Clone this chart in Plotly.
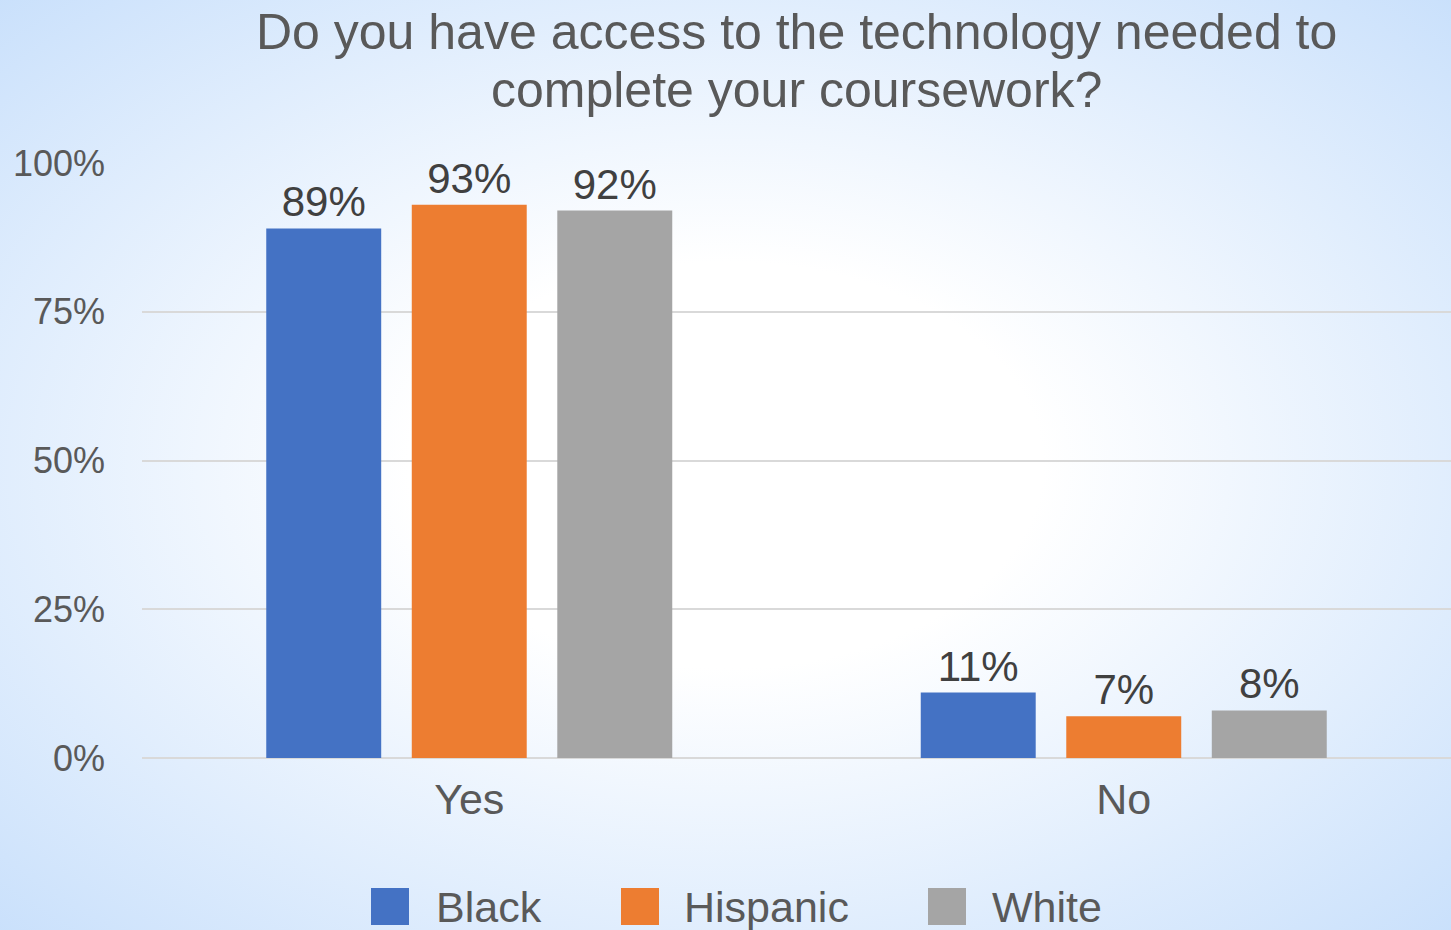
import base64
import plotly.graph_objects as go

categories = ["Yes", "No"]
groups = ["Black", "Hispanic", "White"]
black = [0.89, 0.11]
hispanic = [0.93, 0.07]
white = [0.92, 0.08]
colors = ["#4472C4", "#ED7D31", "#A5A5A5"]
series = [black, hispanic, white]
title_lines = ["Do you have access to the technology needed to", "complete your coursework?"]
tick_vals = [0, 0.25, 0.5, 0.75, 1.0]
tick_text = ["0%", "25%", "50%", "75%", "100%"]

W, H = 1451, 930
ML, MR, MT, MB = 142, 0, 163, 172
PW, PH = W - ML - MR, H - MT - MB
FONT = "Liberation Sans, Arial, sans-serif"

def px(x):
    return (x - ML) / PW

def py(y):
    return (H - MB - y) / PH

svg = f'''<svg xmlns="http://www.w3.org/2000/svg" width="{W}" height="{H}" viewBox="0 0 {W} {H}" preserveAspectRatio="none">
<defs><radialGradient id="g" cx="0.5" cy="0.5" r="0.78">
<stop offset="0" stop-color="#ffffff"/>
<stop offset="0.28" stop-color="#ffffff"/>
<stop offset="1" stop-color="#c2dcfb"/>
</radialGradient></defs>
<rect x="0" y="0" width="{W}" height="{H}" fill="url(#g)"/></svg>'''
bg_src = "data:image/svg+xml;base64," + base64.b64encode(svg.encode()).decode()

fig = go.Figure()
for name, vals, col in zip(groups, series, colors):
    fig.add_trace(go.Bar(
        x=categories, y=vals, name=name, marker=dict(color=col, line=dict(width=0)),
        text=[f"{round(v*100)}%" for v in vals], textposition="outside",
        textfont=dict(size=42, color="#404040", family=FONT),
        cliponaxis=False, showlegend=False,
    ))

shapes = []
annotations = []
for line, cy in zip(title_lines, [32, 90]):
    annotations.append(dict(text=line, xref="paper", yref="paper", x=0.5, y=py(cy),
                            xanchor="center", yanchor="middle", showarrow=False,
                            font=dict(size=50, color="#595959", family=FONT)))
legend_items = [(371, 434), (621, 682), (928, 990)]
for (sx, tx), name, col in zip(legend_items, groups, colors):
    shapes.append(dict(type="rect", xref="paper", yref="paper",
                       x0=px(sx), x1=px(sx + 38), y0=py(888), y1=py(925),
                       fillcolor=col, line=dict(width=0), layer="above"))
    annotations.append(dict(text=name, xref="paper", yref="paper", x=px(tx), y=py(907),
                            xanchor="left", yanchor="middle", showarrow=False,
                            font=dict(size=43, color="#595959", family=FONT)))

fig.update_layout(
    width=W, height=H,
    margin=dict(l=ML, r=MR, t=MT, b=MB, pad=0),
    paper_bgcolor="white", plot_bgcolor="rgba(0,0,0,0)",
    barmode="group", bargap=0.333, bargroupgap=0.21,
    font=dict(family=FONT, color="#595959"),
    xaxis=dict(showgrid=False, showline=False, ticks="", tickfont=dict(size=43, color="#595959"),
               ticklabelstandoff=12),
    yaxis=dict(range=[0, 1], tickvals=tick_vals, ticktext=tick_text, showgrid=True,
               gridcolor="#d9d9d9", gridwidth=2, zeroline=True, zerolinecolor="#d9d9d9",
               zerolinewidth=2, showline=False, ticks="", tickfont=dict(size=36, color="#595959"),
               ticklabelstandoff=36),
    images=[dict(source=bg_src, xref="paper", yref="paper", x=px(0), y=py(0),
                 sizex=W / PW, sizey=H / PH, sizing="stretch", xanchor="left", yanchor="top",
                 layer="below")],
    shapes=shapes, annotations=annotations, showlegend=False,
)

fig.write_html("out.html")
